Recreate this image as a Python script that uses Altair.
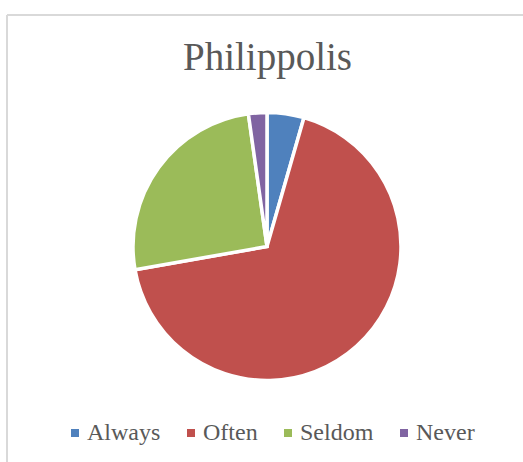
import altair as alt
import pandas as pd

# ---- data ----
categories = ["Always", "Often", "Seldom", "Never"]
counts = [4, 61, 23, 2]
colors = ["#4F81BD", "#C0504D", "#9BBB59", "#8064A2"]
title_text = "Philippolis"

df = pd.DataFrame({
    "category": categories,
    "count": counts,
    "idx": list(range(len(categories))),
})

W, H = 516, 447
FONT = "Liberation Serif"

border_src = pd.DataFrame({"a": [0]})
border_top = alt.Chart(border_src).mark_rule(color="#d9d9d9", strokeWidth=2).encode(
    x=alt.value(0), x2=alt.value(W + 30), y=alt.value(0)
)
border_left = alt.Chart(border_src).mark_rule(color="#d9d9d9", strokeWidth=2).encode(
    x=alt.value(0), y=alt.value(0), y2=alt.value(H + 30)
)

title = alt.Chart(pd.DataFrame({"t": [title_text]})).mark_text(
    font=FONT, fontSize=39, color="#595959", align="center", baseline="alphabetic"
).encode(text="t:N", x=alt.value(260.5), y=alt.value(55))

pie = alt.Chart(df).mark_arc(outerRadius=134, stroke="white", strokeWidth=3.5).encode(
    theta=alt.Theta("count:Q", stack=True),
    color=alt.Color(
        "category:N",
        scale=alt.Scale(domain=categories, range=colors),
        legend=alt.Legend(
            title=None, orient="none", legendX=56, legendY=406,
            direction="horizontal", columns=4,
            symbolType="square", symbolSize=64, symbolStrokeWidth=0,
            labelFont=FONT, labelFontSize=24, labelColor="#595959",
            labelOffset=0, columnPadding=18,
        ),
    ),
    order=alt.Order("idx:Q"),
    x=alt.value(260),
    y=alt.value(231.5),
)

chart = alt.layer(border_top, border_left, title, pie).properties(
    width=W, height=H, autosize="none",
    padding={"left": 7, "top": 15, "right": 0, "bottom": 0},
    background="white",
).configure_view(stroke=None)

chart.save("out.html", embed_options={"renderer": "svg", "actions": False})
